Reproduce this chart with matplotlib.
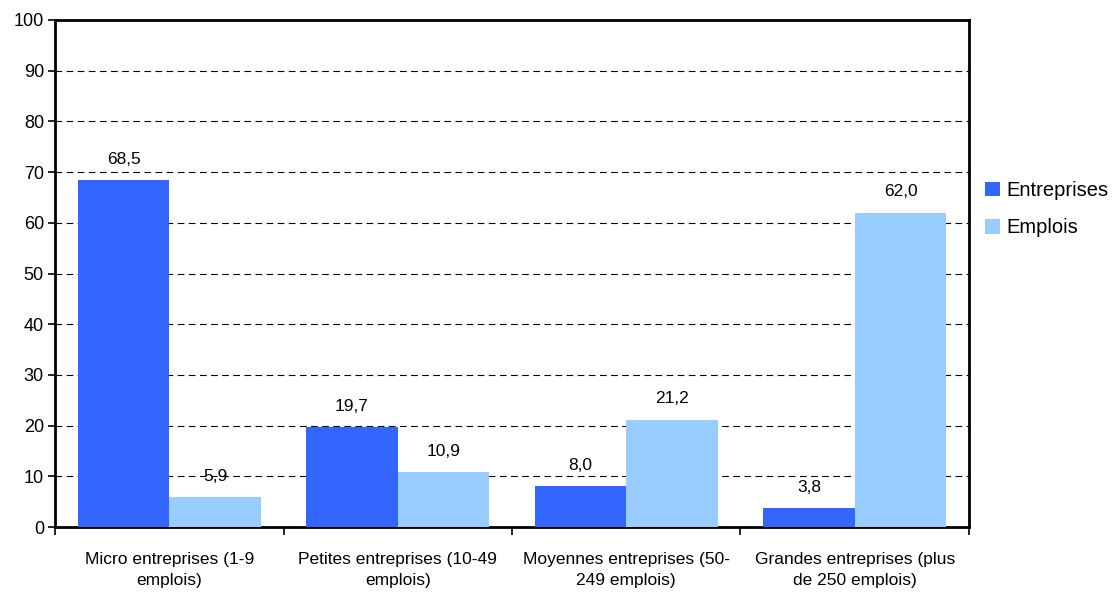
import matplotlib
matplotlib.use("Agg")
import matplotlib.pyplot as plt
import numpy as np

categories = ["Micro entreprises (1-9\nemplois)", "Petites entreprises (10-49\nemplois)",
              "Moyennes entreprises (50-\n249 emplois)", "Grandes entreprises (plus\nde 250 emplois)"]
entreprises = [68.5, 19.7, 8.0, 3.8]
emplois = [5.9, 10.9, 21.2, 62.0]
series_names = ["Entreprises", "Emplois"]
yticks = list(range(0, 101, 10))

plt.rcParams['font.family'] = ['Liberation Sans', 'DejaVu Sans']

fig = plt.figure(figsize=(11.19, 5.99), dpi=100)
ax = fig.add_axes([55/1119, 72/599, (969-55)/1119, (527-20)/599])

x = np.arange(len(categories))
w = 0.4
ax.bar(x - w/2, entreprises, w, color="#3366FF", label=series_names[0], zorder=3)
ax.bar(x + w/2, emplois, w, color="#99CCFF", label=series_names[1], zorder=3)

def fmt(v):
    return f"{v:.1f}".replace(".", ",")

for xi, v in zip(x - w/2, entreprises):
    ax.text(xi, v + 2.6, fmt(v), ha="center", va="bottom", fontsize=12.5, zorder=4)
for xi, v in zip(x + w/2, emplois):
    ax.text(xi, v + 2.6, fmt(v), ha="center", va="bottom", fontsize=12.5, zorder=4)

ax.set_xlim(-0.5, len(categories) - 0.5)
ax.set_ylim(0, 100)
ax.set_yticks(yticks)
ax.set_yticklabels([str(t) for t in yticks], fontsize=13)
ax.yaxis.grid(True, linestyle=(0, (6, 4)), color="black", linewidth=0.8, zorder=0)
ax.set_axisbelow(True)

ax.set_xticks(np.arange(len(categories) + 1) - 0.5)
ax.set_xticklabels([])
ax.set_xticks(x, minor=True)
ax.set_xticklabels(categories, minor=True, fontsize=12.5, linespacing=1.5)
ax.tick_params(axis="x", which="minor", length=0, pad=18)
ax.tick_params(axis="x", which="major", length=6, width=1.2, direction="out")
ax.tick_params(axis="y", length=5, width=1.2, direction="out", pad=3)

for s in ax.spines.values():
    s.set_linewidth(2)
    s.set_color("black")

fig.legend(loc="upper left", bbox_to_anchor=(977/1119, 1 - 173/599), frameon=False,
           fontsize=14.5, handlelength=0.75, handleheight=0.75, handletextpad=0.3,
           labelspacing=0.9, borderaxespad=0)

fig.savefig("out.png", dpi=100)
